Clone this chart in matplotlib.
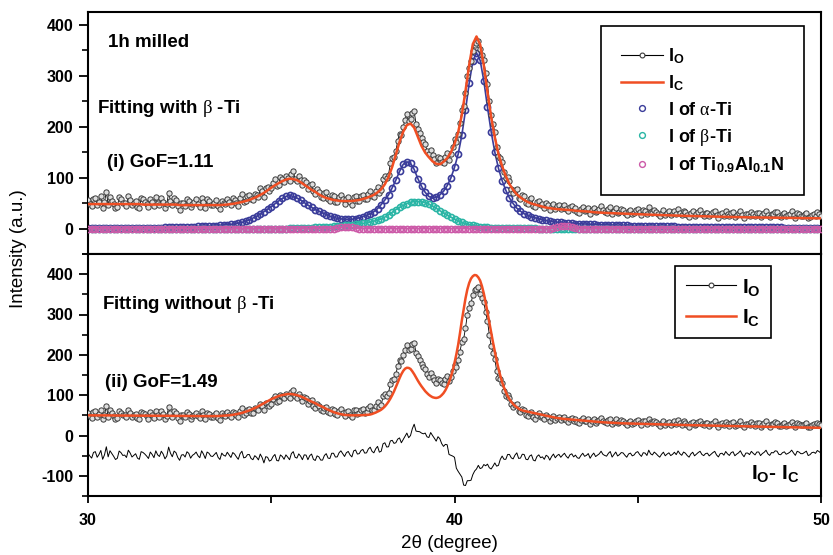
import numpy as np
import matplotlib
matplotlib.use('Agg')
import matplotlib.pyplot as plt
from matplotlib.lines import Line2D
from matplotlib.ticker import MultipleLocator, FixedLocator

plt.rcParams['font.family'] = ['Liberation Sans', 'DejaVu Sans']
plt.rcParams['mathtext.fontset'] = 'custom'
plt.rcParams['mathtext.rm'] = 'Liberation Sans'
plt.rcParams['mathtext.bf'] = 'Liberation Sans:bold'
plt.rcParams['mathtext.it'] = 'Liberation Serif'
plt.rcParams['mathtext.default'] = 'it'
plt.rcParams['axes.unicode_minus'] = False

# 2-theta sampling (degree)
two_theta_fine = np.round(np.arange(30.0, 50.025, 0.05), 2)   # 401 points
two_theta = np.round(np.arange(30.0, 50.05, 0.1), 1)          # 201 points

# observed intensity I_O (step 0.05)
obs = [56, 49, 44, 58, 60, 46, 53, 63, 41, 52, 72, 47, 62, 55, 48, 40, 43, 61, 57, 50,
       51, 45, 63, 56, 46, 50, 54, 43, 40, 59, 57, 53, 48, 42, 58, 52, 44, 61, 51, 47,
       60, 53, 41, 48, 70, 55, 46, 60, 56, 44, 37, 50, 51, 45, 58, 54, 42, 49, 52, 57,
       48, 43, 60, 52, 41, 57, 54, 47, 46, 51, 56, 44, 39, 55, 50, 48, 58, 52, 46, 59,
       56, 50, 45, 60, 67, 52, 55, 63, 65, 57, 56, 68, 66, 62, 79, 73, 62, 80, 81, 74,
       79, 90, 97, 84, 85, 101, 98, 92, 104, 99, 93, 108, 112, 97, 94, 103, 96, 85, 95, 92,
       78, 86, 88, 73, 68, 77, 72, 62, 60, 69, 71, 58, 55, 66, 64, 53, 52, 61, 65, 57,
       49, 58, 61, 52, 47, 62, 64, 54, 55, 63, 66, 57, 58, 68, 73, 64, 62, 74, 82, 70,
       75, 97, 104, 99, 106, 128, 138, 140, 152, 172, 186, 184, 200, 213, 224, 212, 215, 226, 230, 205,
       196, 188, 178, 170, 166, 152, 146, 155, 145, 137, 129, 141, 138, 130, 128, 140, 148, 135, 146, 160,
       176, 170, 186, 208, 232, 240, 266, 300, 316, 328, 348, 360, 364, 368, 352, 340, 330, 305, 284, 250,
       222, 205, 190, 160, 142, 139, 131, 110, 99, 101, 93, 78, 70, 75, 77, 60, 58, 66, 64, 51,
       49, 57, 59, 45, 42, 52, 55, 47, 48, 41, 50, 46, 36, 44, 49, 39, 44, 46, 38, 43,
       47, 39, 34, 42, 44, 36, 40, 33, 31, 38, 43, 35, 37, 41, 29, 36, 41, 32, 35, 38,
       44, 36, 33, 31, 38, 42, 28, 34, 40, 30, 33, 38, 37, 31, 26, 34, 36, 29, 31, 37,
       39, 32, 27, 36, 35, 29, 42, 33, 30, 37, 33, 28, 24, 31, 36, 27, 31, 34, 27, 30,
       35, 29, 38, 31, 27, 35, 32, 26, 22, 30, 34, 25, 29, 33, 36, 28, 25, 30, 31, 24,
       28, 32, 35, 26, 21, 29, 30, 25, 34, 28, 24, 31, 33, 23, 27, 30, 35, 26, 20, 29,
       29, 25, 33, 28, 24, 31, 31, 22, 27, 30, 35, 26, 22, 29, 28, 33, 32, 24, 23, 28,
       30, 24, 26, 29, 34, 27, 21, 31, 29, 25, 25, 28, 31, 20, 22, 27, 28, 25, 32, 29,
       25]

# calculated intensity, fit (ii) without beta-Ti (step 0.05)
calc_without_beta = [
    50, 50, 50, 50, 50, 50, 50, 50, 50, 50, 50, 49.9, 49.8, 49.7, 49.6, 49.55, 49.5, 49.5, 49.5, 49.5,
    49.5, 49.45, 49.4, 49.35, 49.3, 49.25, 49.2, 49.15, 49.1, 49.05, 49, 49, 49, 49, 49, 49, 49, 49, 49, 49,
    49, 48.95, 48.9, 48.85, 48.8, 48.75, 48.7, 48.65, 48.6, 48.55, 48.5, 48.45, 48.4, 48.35, 48.3, 48.25, 48.2, 48.15, 48.1, 48.05,
    48, 48, 48, 48, 48, 48, 48, 48, 48, 48, 48, 48.2, 48.5, 48.7, 49, 49.2, 49.5, 50, 50.5, 51.2,
    52, 53, 54, 55, 56, 57.5, 59, 60.5, 62, 64, 66, 68, 70, 72.5, 75, 77.5, 80, 82.5, 85, 87.5,
    90, 92, 94, 96, 98, 99.2, 100, 101, 102, 102.7, 103, 102.7, 102, 101, 100, 98.6, 97, 95, 93, 90.6,
    88, 86, 84, 82, 80, 77.5, 75, 73, 71, 68.5, 66, 64, 62, 60, 58, 56.4, 55, 53.9, 53, 52,
    51, 50.7, 50.5, 50.2, 50, 50, 50, 50, 50, 50.2, 50.5, 50.7, 51, 51.4, 52, 53.3, 55, 56.9, 59, 61.3,
    64, 67.7, 72, 77.6, 84, 91.5, 100, 109.5, 120, 131, 142, 152, 160, 165.5, 168, 167.5, 165, 159, 152, 144,
    136, 128.7, 122, 115.8, 110, 105.3, 101, 97.7, 95, 93.7, 93, 94, 96, 100, 105, 112, 121, 132, 145, 161,
    180, 201, 225, 254, 285, 313, 340, 362, 378, 389, 395, 398, 397, 392, 384, 370, 352, 330, 305, 280,
    255, 231, 208, 186, 166, 148, 132, 119, 108, 98, 90, 83.5, 78, 73.7, 70, 66.8, 64, 62.4, 61, 60,
    59, 58, 57, 56, 55, 54, 53, 52, 51, 50, 49, 48, 47, 46, 45, 44.2, 43.5, 42.7, 42, 41.5,
    41, 40.6, 40.2, 39.8, 39.4, 39, 38.6, 38.2, 37.8, 37.4, 37, 36.6, 36.2, 35.8, 35.4, 35, 34.6, 34.2, 33.8, 33.4,
    33, 32.75, 32.5, 32.25, 32, 31.75, 31.5, 31.25, 31, 30.75, 30.5, 30.35, 30.2, 30.05, 29.9, 29.75, 29.6, 29.45, 29.3, 29.15,
    29, 28.9, 28.8, 28.7, 28.6, 28.5, 28.4, 28.3, 28.2, 28.1, 28, 27.85, 27.7, 27.55, 27.4, 27.25, 27.1, 26.95, 26.8, 26.65,
    26.5, 26.4, 26.3, 26.2, 26.1, 26, 25.9, 25.8, 25.7, 25.6, 25.5, 25.4, 25.3, 25.2, 25.1, 25, 24.9, 24.8, 24.7, 24.6,
    24.5, 24.4, 24.3, 24.2, 24.1, 24, 23.9, 23.8, 23.7, 23.6, 23.5, 23.4, 23.3, 23.2, 23.1, 23, 22.9, 22.8, 22.7, 22.6,
    22.5, 22.4, 22.3, 22.2, 22.1, 22, 21.9, 21.8, 21.7, 21.6, 21.5, 21.4, 21.3, 21.2, 21.1, 21, 20.9, 20.8, 20.7, 20.6,
    20.5, 20.45, 20.4, 20.35, 20.3, 20.25, 20.2, 20.15, 20.1, 20.05, 20, 19.9, 19.8, 19.7, 19.6, 19.5, 19.4, 19.3, 19.2, 19.1,
    19]

# calculated intensity, fit (i) with beta-Ti (step 0.1)
calc_with_beta = [48, 48, 48, 48, 48, 48, 48, 48, 48, 48,
                  48, 48, 48, 48, 48, 47, 47, 47, 47, 47,
                  47, 47, 47, 47, 47, 46, 46, 46, 46, 46,
                  46, 46, 46, 46, 46, 46, 46, 46.5, 47, 48,
                  49, 50.5, 52, 54, 56, 59, 62, 66, 70, 75,
                  80, 85, 89, 93, 96, 98, 97, 95, 91, 86,
                  81, 76, 72, 67, 63, 60, 58, 56, 55, 54,
                  54, 54, 54, 55, 56, 58, 60, 63, 66, 71,
                  77, 87, 101, 121, 145, 170, 190, 203, 206, 198,
                  180, 162, 149, 140, 132, 127, 126, 131, 138, 149,
                  166, 189, 223, 270, 321, 362, 377, 361, 320, 268,
                  219, 179, 146, 122, 103, 87, 76, 67, 61, 56,
                  52, 49, 47, 45, 43, 41, 40, 39, 38, 37.5,
                  37, 36.5, 36, 35, 34.5, 34, 33.5, 33, 32, 31.5,
                  31, 30.7, 30.4, 30.1, 29.8, 29.5, 29.2, 28.9, 28.6, 28.3,
                  28, 27.8, 27.5, 27.3, 27, 26.8, 26.5, 26.3, 26, 25.8,
                  25.5, 25.3, 25.1, 24.9, 24.7, 24.5, 24.3, 24.1, 23.9, 23.7,
                  23.5, 23.4, 23.2, 23.1, 22.9, 22.8, 22.6, 22.5, 22.3, 22.2,
                  22, 21.9, 21.8, 21.7, 21.6, 21.5, 21.4, 21.3, 21.2, 21.1,
                  21, 20.9, 20.8, 20.7, 20.6, 20.5, 20.4, 20.3, 20.2, 20.1,
                  20]

# alpha-Ti contribution (step 0.1)
alpha_ti = [1.0, 1.0, 1.1, 1.1, 1.2, 1.2, 1.3, 1.3, 1.4, 1.4,
            1.5, 1.5, 1.6, 1.6, 1.7, 1.7, 1.8, 1.8, 1.9, 1.9,
            2.0, 2.1, 2.3, 2.4, 2.6, 2.8, 3.0, 3.2, 3.4, 3.7,
            4.0, 4.3, 4.6, 5.0, 5.4, 5.9, 6.4, 7.0, 7.6, 8.3,
            9, 10.5, 12, 14.5, 17, 20.5, 24, 28.5, 33, 38,
            43, 48.5, 54, 59, 63, 65, 63, 60, 56, 51,
            46, 41.5, 37, 34, 31, 27.5, 24, 22, 20, 19,
            18, 18, 18, 19.5, 21, 23.5, 26, 29, 33, 39,
            47, 56, 66, 80, 95, 112, 126, 131, 128, 116,
            98, 83, 71, 63, 60, 61, 66, 73, 84, 99,
            120, 146, 183, 232, 285, 328, 345, 330, 290, 238,
            190, 150, 118, 94, 75, 60, 49, 40, 34, 29,
            26, 23, 21, 19, 17, 16, 14, 13.5, 12.5, 12,
            11, 10.6, 10.2, 9.8, 9.4, 9, 8.7, 8.4, 8.1, 7.8,
            7.5, 7.3, 7.1, 6.9, 6.7, 6.5, 6.3, 6.1, 5.9, 5.7,
            5.5, 5.35, 5.2, 5.05, 4.9, 4.75, 4.6, 4.45, 4.3, 4.15,
            4, 3.9, 3.8, 3.7, 3.6, 3.5, 3.4, 3.3, 3.2, 3.1,
            3, 2.95, 2.9, 2.85, 2.8, 2.75, 2.7, 2.65, 2.6, 2.55,
            2.5, 2.45, 2.4, 2.35, 2.3, 2.25, 2.2, 2.15, 2.1, 2.05,
            2, 1.95, 1.9, 1.85, 1.8, 1.75, 1.7, 1.65, 1.6, 1.55,
            1.5]

# beta-Ti contribution (step 0.1)
beta_ti = ([0] * 55 +
           [0.5, 0.6, 0.8, 1, 1.2,
            1.5, 1.8, 2.1, 2.5, 2.9, 3.3, 3.8, 4.3, 4.8, 5.3,
            6, 6.7, 7.4, 8.2, 9, 10, 11.2, 12.6, 14.5, 16.5,
            19, 22.5, 27, 32, 37, 41.5, 45.5, 49, 51.5, 53,
            53, 52.5, 51, 48, 44, 40, 35, 31, 26.5, 22.5,
            18.5, 15, 12, 9.5, 7.5, 6, 4.8, 3.8, 3, 2.4,
            2, 1.6, 1.3, 1.1, 0.9, 0.7, 0.6, 0.5, 0.4, 0.3,
            0.2, 0.2, 0.1] + [0] * 78)

# Ti0.9Al0.1N contribution (step 0.1)
tialn = ([0] * 68 + [1, 2.5, 3.5, 3.5, 2.5, 1] + [0] * 53 +
         [1, 2.5, 4, 4.5, 4, 2.5, 1] + [0] * 67)

diff_offset = -50  # I_O - I_C is drawn shifted down by 50

ORANGE = '#F04E23'
BLUE = '#3A3C9A'
TEAL = '#2AB5A5'
MAGENTA = '#CC5AA8'

xf = two_theta_fine
x = two_theta
diff = np.array(obs, float) - np.array(calc_without_beta, float) + diff_offset

fig = plt.figure(figsize=(8.33, 5.55), dpi=100)
L, W = 88 / 833, 733 / 833
ax1 = fig.add_axes([L, 1 - 254 / 555, W, 242 / 555])
ax2 = fig.add_axes([L, 1 - 496 / 555, W, 242 / 555])

obs_style = dict(color='black', lw=0.6, marker='o', ms=3.8, mfc='#dedede',
                 mec='#3a3a3a', mew=0.7)
comp_style = dict(lw=1.2, marker='o', ms=4.4, mfc='none', mew=1.2)

# ---- top panel
ax1.plot(x, alpha_ti, color=BLUE, mec=BLUE, zorder=2, **comp_style)
ax1.plot(x, beta_ti, color=TEAL, mec=TEAL, zorder=2.5, **comp_style)
ax1.plot(x, tialn, color=MAGENTA, mec=MAGENTA, zorder=3, **comp_style)
ax1.plot(xf, obs, zorder=4, **obs_style)
ax1.plot(x, calc_with_beta, color=ORANGE, lw=1.8, zorder=5)

# ---- bottom panel
ax2.plot(xf, obs, zorder=4, **obs_style)
ax2.plot(xf, calc_without_beta, color=ORANGE, lw=1.8, zorder=5)
ax2.plot(xf, diff, color='black', lw=0.7, zorder=3)

ax1.set_xlim(30, 50)
ax2.set_xlim(30, 50)
ax1.set_ylim(-50, 425)
ax2.set_ylim(-150, 450)

for ax in (ax1, ax2):
    for s in ax.spines.values():
        s.set_linewidth(1.5)
    ax.yaxis.set_major_locator(MultipleLocator(100))
    ax.yaxis.set_minor_locator(MultipleLocator(50))
    ax.xaxis.set_major_locator(FixedLocator([30, 40, 50]))
    ax.xaxis.set_minor_locator(FixedLocator([35, 45]))
    ax.tick_params(axis='y', which='major', direction='out', length=6.5,
                   width=1.3, pad=4, labelsize=11.5)
    ax.tick_params(axis='y', which='minor', direction='out', length=4,
                   width=1.2)
    ax.tick_params(axis='x', which='both', direction='out', length=5,
                   width=1.3, pad=7, labelsize=11.5)
    for lab in ax.get_yticklabels():
        lab.set_fontweight('bold')
ax1.tick_params(axis='x', which='both', labelbottom=False)
for lab in ax2.get_xticklabels():
    lab.set_fontweight('bold')

# texts
ax1.text(30.55, 357, '1h milled', fontsize=13.5, fontweight='bold')
ax1.text(30.25, 226, r'Fitting with $\beta$ -Ti', fontsize=13.5, fontweight='bold')
ax1.text(30.52, 121, '(i) GoF=1.11', fontsize=13.5, fontweight='bold')
ax2.text(30.38, 314, r'Fitting without $\beta$ -Ti', fontsize=13.5, fontweight='bold')
ax2.text(30.46, 120, '(ii) GoF=1.49', fontsize=13.5, fontweight='bold')
ax2.text(48.1, -107, r'I$_\mathbf{O}$- I$_\mathbf{C}$', fontsize=15, fontweight='bold')

fig.text(0.022, 1 - 249 / 555, 'Intensity (a.u.)', rotation=90, fontsize=13.5,
         ha='center', va='center')
fig.text(449 / 833, 1 - 543 / 555, '2\u03b8 (degree)', fontsize=13.5,
         ha='center', va='center')

# legends
h_obs = Line2D([], [], color='black', lw=0.8, marker='o', ms=3.5, mfc='white',
               mec='#3a3a3a', mew=0.8)
h_calc = Line2D([], [], color=ORANGE, lw=1.8)
h_a = Line2D([], [], ls='none', marker='o', ms=4.2, mfc='none', mec=BLUE, mew=1.0)
h_b = Line2D([], [], ls='none', marker='o', ms=4.2, mfc='none', mec=TEAL, mew=1.0)
h_n = Line2D([], [], ls='none', marker='o', ms=4.2, mfc='none', mec=MAGENTA, mew=1.0)

leg_kw = dict(frameon=True, fancybox=False, framealpha=1, edgecolor='black',
              handletextpad=0.3, borderaxespad=0)
leg1 = ax1.legend([h_obs, h_calc, h_a, h_b, h_n],
                  [r'I$_\mathbf{O}$', r'I$_\mathbf{C}$', r'I of $\alpha$-Ti',
                   r'I of $\beta$-Ti', r'I of Ti$_\mathbf{0.9}$Al$_\mathbf{0.1}$N'],
                  loc='upper right', bbox_to_anchor=(0.977, 0.942),
                  prop={'weight': 'bold', 'size': 13},
                  handlelength=2.3, labelspacing=0.45, borderpad=1.1, **leg_kw)
leg1.get_frame().set_linewidth(1.2)
leg1.set_zorder(10)
leg2 = ax2.legend([h_obs, h_calc], [r'I$_\mathbf{O}$', r'I$_\mathbf{C}$'],
                  loc='upper right', bbox_to_anchor=(0.932, 0.95),
                  prop={'weight': 'bold', 'size': 15},
                  handlelength=2.4, labelspacing=0.45, borderpad=0.5, **leg_kw)
leg2.get_frame().set_linewidth(1.2)
leg2.set_zorder(10)

fig.savefig('out.png', dpi=100)
